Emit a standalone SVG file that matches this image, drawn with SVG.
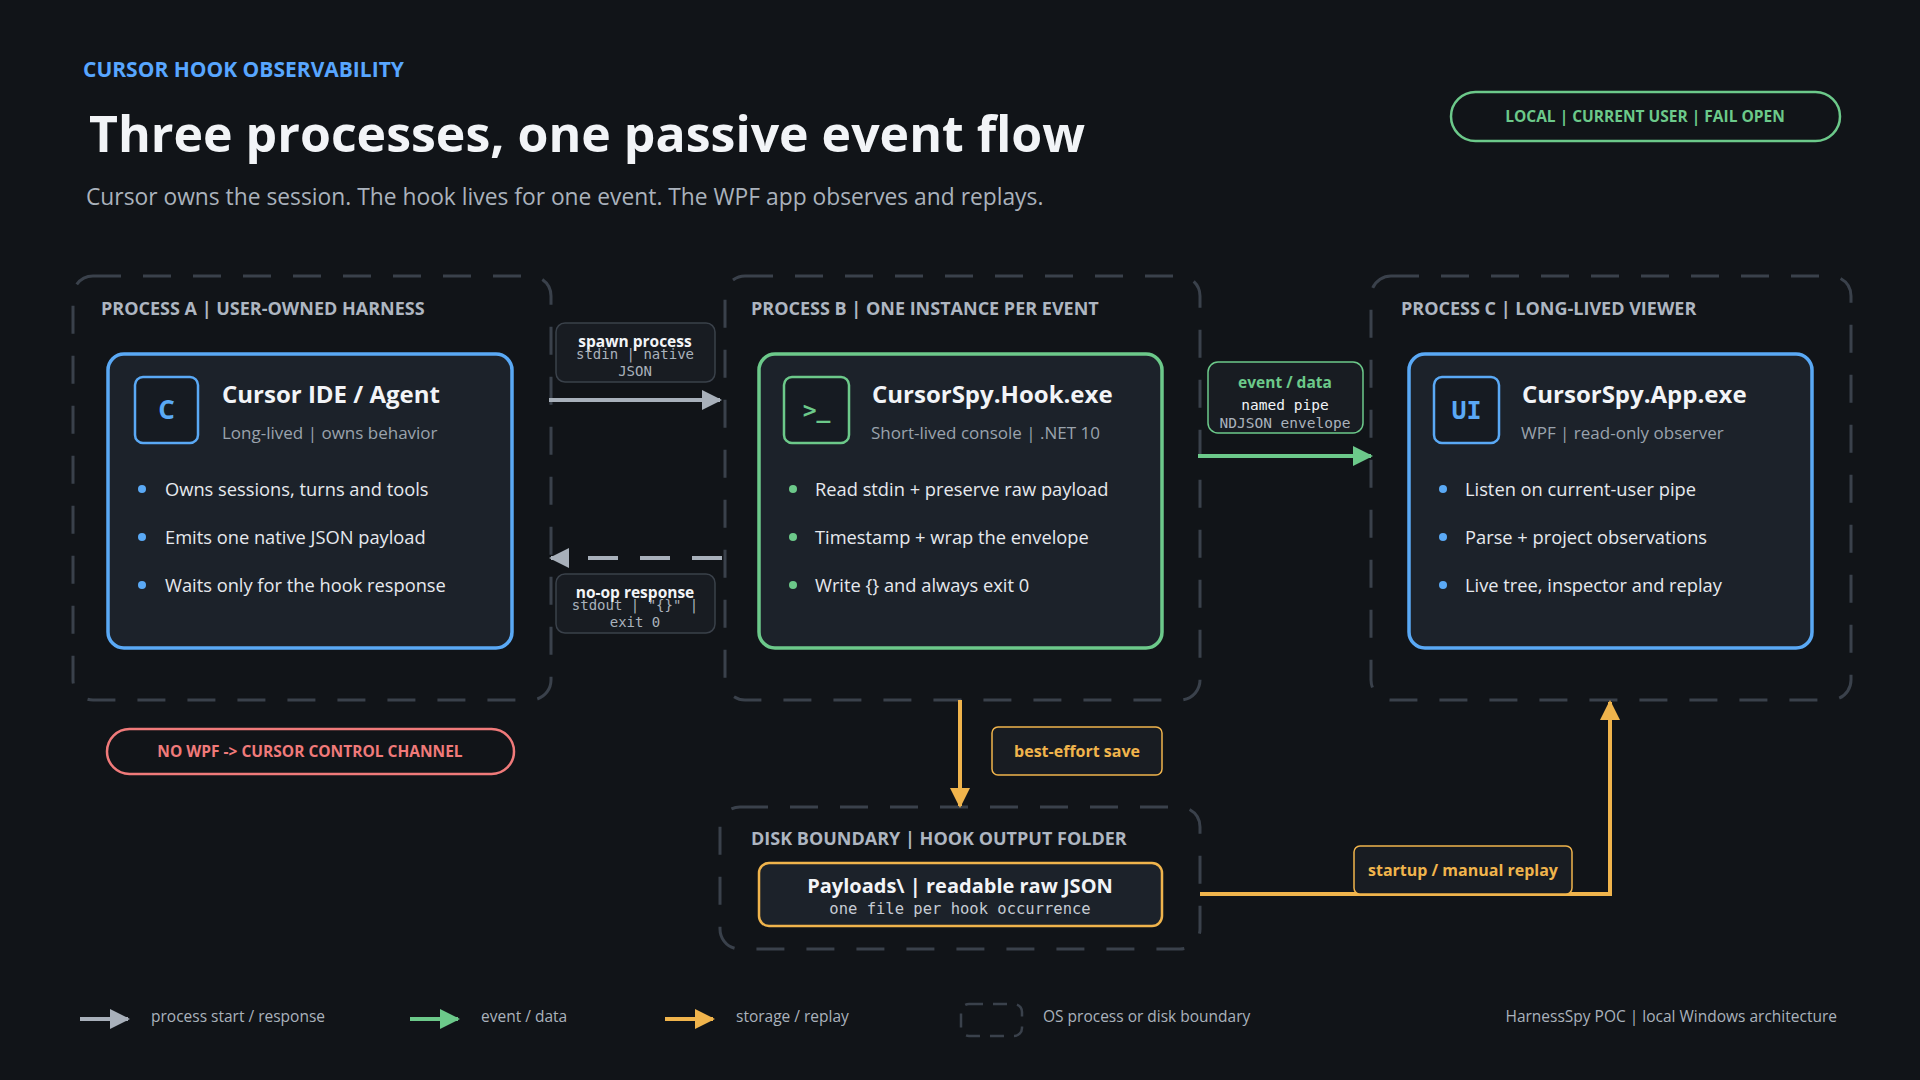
<svg xmlns="http://www.w3.org/2000/svg" width="1920" height="1080" viewBox="0 0 1920 1080">
<style>
text{font-family:"Open Sans","Noto Sans","Liberation Sans",sans-serif}
.mono{font-family:"DejaVu Sans Mono","Liberation Mono",monospace}
.bnd{fill:none;stroke:#3a414b;stroke-width:3;stroke-dasharray:28 22}
.blab{font-size:18px;font-weight:700;fill:#aeb6c1}
.node{fill:#1c222a;stroke-width:3.5}
.icon{fill:#161b22;stroke-width:2.5}
.ttl{font-size:24px;font-weight:700;fill:#f2f4f7}
.sub{font-size:17px;fill:#9aa3ad}
.bul{font-size:18.3px;fill:#e6e9ee}
.lbl{fill:#181c22;stroke:#3a414a;stroke-width:1.5}
.leg{font-size:15.5px;fill:#aab2bc}
</style>
<defs>
<marker id="ag" viewBox="0 0 10 10" refX="9" refY="5" markerWidth="5" markerHeight="5" orient="auto-start-reverse"><path d="M0,0L10,5L0,10z" fill="#a8b0ba"/></marker>
<marker id="agr" viewBox="0 0 10 10" refX="9" refY="5" markerWidth="5" markerHeight="5" orient="auto-start-reverse"><path d="M0,0L10,5L0,10z" fill="#6cc98a"/></marker>
<marker id="ao" viewBox="0 0 10 10" refX="9" refY="5" markerWidth="5" markerHeight="5" orient="auto-start-reverse"><path d="M0,0L10,5L0,10z" fill="#f0b44c"/></marker>
</defs>
<rect width="1920" height="1080" fill="#111418"/>

<text x="83" y="77" font-size="21" font-weight="700" fill="#58a6ff">CURSOR HOOK OBSERVABILITY</text>
<text x="89" y="152" font-size="50" font-weight="700" fill="#f2f4f7">Three processes, one passive event flow</text>
<text x="86" y="205" font-size="22.8" fill="#aab2bc">Cursor owns the session. The hook lives for one event. The WPF app observes and replays.</text>

<g id="badge">
<rect x="1451" y="92" width="389" height="49" rx="24.5" fill="none" stroke="#6cc98a" stroke-width="2.5"/>
<text x="1645" y="122" font-size="15.5" font-weight="700" fill="#6cc98a" text-anchor="middle">LOCAL | CURRENT USER | FAIL OPEN</text>
</g>

<g id="boundaries">
<rect class="bnd" x="73" y="276" width="478" height="424" rx="20"/>
<text class="blab" x="101" y="315">PROCESS A | USER-OWNED HARNESS</text>
<rect class="bnd" x="725" y="276" width="475" height="424" rx="20"/>
<text class="blab" x="751" y="315">PROCESS B | ONE INSTANCE PER EVENT</text>
<rect class="bnd" x="1371" y="276" width="480" height="424" rx="20"/>
<text class="blab" x="1401" y="315">PROCESS C | LONG-LIVED VIEWER</text>
<rect class="bnd" x="720" y="807" width="480" height="142" rx="20"/>
<text class="blab" x="751" y="845">DISK BOUNDARY | HOOK OUTPUT FOLDER</text>
</g>

<g id="nodeA">
<rect class="node" x="108" y="354" width="404" height="294" rx="16" stroke="#5aa9f5"/>
<rect class="icon" x="135" y="377" width="63" height="66" rx="8" stroke="#5aa9f5"/>
<text x="166.5" y="419" font-size="26" font-weight="700" fill="#5aa9f5" text-anchor="middle">C</text>
<text class="ttl" x="222" y="403">Cursor IDE / Agent</text>
<text class="sub" x="222" y="439">Long-lived | owns behavior</text>
<circle cx="142" cy="489" r="4" fill="#5aa9f5"/><text class="bul" x="165" y="496">Owns sessions, turns and tools</text>
<circle cx="142" cy="537" r="4" fill="#5aa9f5"/><text class="bul" x="165" y="544">Emits one native JSON payload</text>
<circle cx="142" cy="585" r="4" fill="#5aa9f5"/><text class="bul" x="165" y="592">Waits only for the hook response</text>
</g>

<g id="nodeB">
<rect class="node" x="759" y="354" width="403" height="294" rx="16" stroke="#6cc98a"/>
<rect class="icon" x="784" y="377" width="65" height="66" rx="8" stroke="#6cc98a"/>
<text class="mono" x="816.5" y="418" font-size="23" font-weight="700" fill="#6cc98a" text-anchor="middle">&gt;_</text>
<text class="ttl" x="872" y="403">CursorSpy.Hook.exe</text>
<text class="sub" x="871" y="439">Short-lived console | .NET 10</text>
<circle cx="793" cy="489" r="4" fill="#6cc98a"/><text class="bul" x="815" y="496">Read stdin + preserve raw payload</text>
<circle cx="793" cy="537" r="4" fill="#6cc98a"/><text class="bul" x="815" y="544">Timestamp + wrap the envelope</text>
<circle cx="793" cy="585" r="4" fill="#6cc98a"/><text class="bul" x="815" y="592">Write {} and always exit 0</text>
</g>

<g id="nodeC">
<rect class="node" x="1409" y="354" width="403" height="294" rx="16" stroke="#5aa9f5"/>
<rect class="icon" x="1434" y="377" width="65" height="66" rx="8" stroke="#5aa9f5"/>
<text class="mono" x="1466.5" y="419" font-size="25" font-weight="700" fill="#5aa9f5" text-anchor="middle">UI</text>
<text class="ttl" x="1522" y="403">CursorSpy.App.exe</text>
<text class="sub" x="1521" y="439">WPF | read-only observer</text>
<circle cx="1443" cy="489" r="4" fill="#5aa9f5"/><text class="bul" x="1465" y="496">Listen on current-user pipe</text>
<circle cx="1443" cy="537" r="4" fill="#5aa9f5"/><text class="bul" x="1465" y="544">Parse + project observations</text>
<circle cx="1443" cy="585" r="4" fill="#5aa9f5"/><text class="bul" x="1465" y="592">Live tree, inspector and replay</text>
</g>

<g id="payloads">
<rect x="759" y="863" width="403" height="63" rx="10" fill="#1c222a" stroke="#f0b44c" stroke-width="2.5"/>
<text x="960" y="893" font-size="20" font-weight="700" fill="#f2f4f7" text-anchor="middle">Payloads\ | readable raw JSON</text>
<text class="mono" x="960" y="914" font-size="15.5" fill="#c6ccd4" text-anchor="middle">one file per hook occurrence</text>
</g>

<g id="nowpf">
<rect x="107" y="729" width="407" height="45" rx="22.5" fill="none" stroke="#f07a7a" stroke-width="2.5"/>
<text x="310" y="757" font-size="15.5" font-weight="700" fill="#f07a7a" text-anchor="middle">NO WPF -&gt; CURSOR CONTROL CHANNEL</text>
</g>

<g id="connectors">
<line x1="549" y1="400" x2="720" y2="400" stroke="#a8b0ba" stroke-width="4" marker-end="url(#ag)"/>
<line x1="722" y1="558" x2="551" y2="558" stroke="#a8b0ba" stroke-width="4" stroke-dasharray="30 22" marker-end="url(#ag)"/>
<line x1="1198" y1="456" x2="1371" y2="456" stroke="#6cc98a" stroke-width="4" marker-end="url(#agr)"/>
<line x1="960" y1="700" x2="960" y2="806" stroke="#f0b44c" stroke-width="4" marker-end="url(#ao)"/>
<polyline points="1200,894 1610,894 1610,702" fill="none" stroke="#f0b44c" stroke-width="4" marker-end="url(#ao)"/>

<rect class="lbl" x="556" y="323" width="159" height="59" rx="9"/>
<text x="635" y="347" font-size="15.5" font-weight="700" fill="#f2f4f7" text-anchor="middle">spawn process</text>
<text class="mono" x="635" y="359" font-size="14" fill="#aab2bc" text-anchor="middle">stdin | native</text>
<text class="mono" x="635" y="376" font-size="14" fill="#aab2bc" text-anchor="middle">JSON</text>

<rect class="lbl" x="556" y="574" width="159" height="59" rx="9"/>
<text x="635" y="598" font-size="15.5" font-weight="700" fill="#f2f4f7" text-anchor="middle">no-op response</text>
<text class="mono" x="635" y="610" font-size="14" fill="#aab2bc" text-anchor="middle">stdout | "{}" |</text>
<text class="mono" x="635" y="627" font-size="14" fill="#aab2bc" text-anchor="middle">exit 0</text>

<rect x="1208" y="362" width="155" height="71" rx="10" fill="#181c22" stroke="#6cc98a" stroke-width="1.5"/>
<text x="1285" y="388" font-size="15.5" font-weight="700" fill="#6cc98a" text-anchor="middle">event / data</text>
<text class="mono" x="1285" y="410" font-size="14.5" fill="#f2f4f7" text-anchor="middle">named pipe</text>
<text class="mono" x="1285" y="428" font-size="14.5" fill="#aab2bc" text-anchor="middle">NDJSON envelope</text>

<rect x="992" y="727" width="170" height="48" rx="6" fill="#181c22" stroke="#f0b44c" stroke-width="1.5"/>
<text x="1077" y="757" font-size="16" font-weight="700" fill="#f0b44c" text-anchor="middle">best-effort save</text>

<rect x="1354" y="846" width="218" height="48" rx="6" fill="#181c22" stroke="#f0b44c" stroke-width="1.5"/>
<text x="1463" y="876" font-size="16" font-weight="700" fill="#f0b44c" text-anchor="middle">startup / manual replay</text>
</g>

<g id="legend">
<line x1="80" y1="1019" x2="128" y2="1019" stroke="#a8b0ba" stroke-width="4" marker-end="url(#ag)"/>
<text class="leg" x="151" y="1022">process start / response</text>
<line x1="410" y1="1019" x2="458" y2="1019" stroke="#6cc98a" stroke-width="4" marker-end="url(#agr)"/>
<text class="leg" x="481" y="1022">event / data</text>
<line x1="665" y1="1019" x2="713" y2="1019" stroke="#f0b44c" stroke-width="4" marker-end="url(#ao)"/>
<text class="leg" x="736" y="1022">storage / replay</text>
<rect x="961" y="1004" width="61" height="32" rx="8" fill="none" stroke="#3a414b" stroke-width="2.5" stroke-dasharray="14 10"/>
<text class="leg" x="1043" y="1022">OS process or disk boundary</text>
<text class="leg" x="1837" y="1022" text-anchor="end" fill="#8a929c">HarnessSpy POC | local Windows architecture</text>
</g>
</svg>
